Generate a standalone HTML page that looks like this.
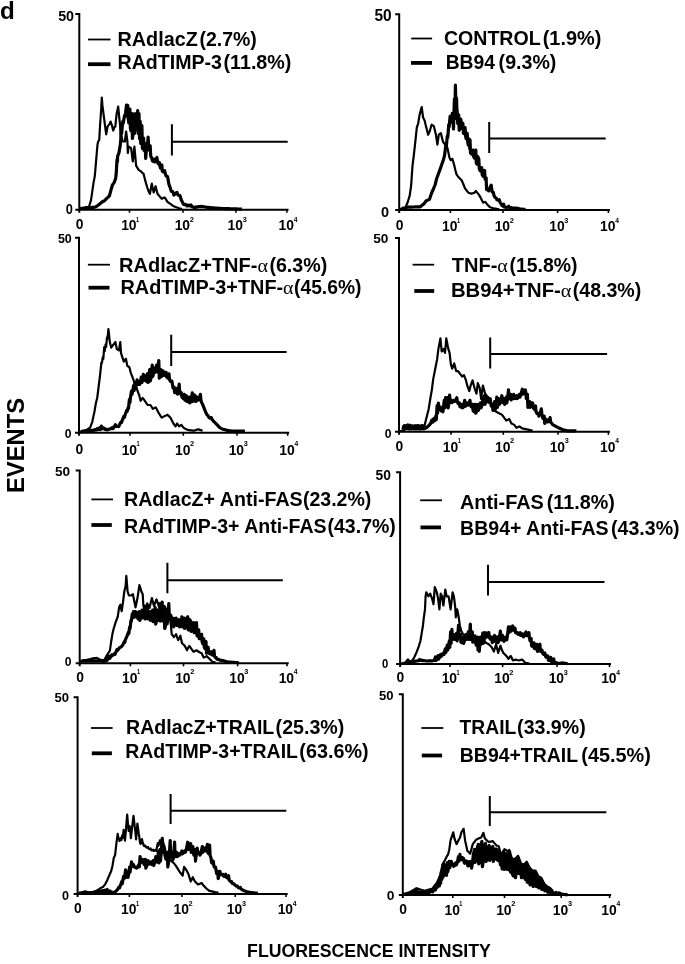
<!DOCTYPE html>
<html><head><meta charset="utf-8"><title>Figure</title><style>
html,body{margin:0;padding:0;background:#fff;}
svg{display:block;filter:grayscale(1) blur(0.35px);}
text{font-family:"Liberation Sans",sans-serif;font-weight:bold;fill:#000;}
.al{font-family:"Liberation Serif",serif;font-weight:normal;}
.ax{fill:none;stroke:#000;stroke-width:2;}
.tk{fill:none;stroke:#000;stroke-width:1.6;}
.gt{fill:none;stroke:#000;stroke-width:2;}
.thin{fill:none;stroke:#000;stroke-width:1.8;}
.thick{fill:none;stroke:#000;stroke-width:3.8;}
.cthin{fill:none;stroke:#000;stroke-width:2.2;stroke-linejoin:round;}
.cthick{fill:none;stroke:#000;stroke-width:3.2;stroke-linejoin:round;}
.f{fill:#000;}
</style></head><body>
<svg width="685" height="964" viewBox="0 0 685 964">
<text x="-0.09" y="18.6" font-size="23" textLength="14.79" lengthAdjust="spacingAndGlyphs">d</text>
<g transform="translate(24.0,491.5) rotate(-90)"><text x="-1.59" y="0.0" font-size="23.2" textLength="95.32" lengthAdjust="spacingAndGlyphs">EVENTS</text></g>
<text x="247.12" y="956.7" font-size="18" textLength="243.67" lengthAdjust="spacingAndGlyphs">FLUORESCENCE INTENSITY</text>
<path d="M75.3 13.9H79.3V212.7M75.3 209.7H288.5" class="ax"/>
<path d="M129.5 209.7V212.7" class="tk"/>
<path d="M183.0 209.7V212.7" class="tk"/>
<path d="M235.9 209.7V212.7" class="tk"/>
<path d="M286.9 209.7V212.7" class="tk"/>
<text x="58.16" y="20.7" font-size="14.1" textLength="15.93" lengthAdjust="spacingAndGlyphs">50</text>
<text x="65.79" y="214.1" font-size="14.4" textLength="7.13" lengthAdjust="spacingAndGlyphs">0</text>
<text x="75.75" y="229.1" font-size="14.5" textLength="7.72" lengthAdjust="spacingAndGlyphs">0</text>
<text x="121.13" y="230.1" font-size="14.5" textLength="15.44" lengthAdjust="spacingAndGlyphs">10</text>
<text x="136.05" y="221.5" font-size="7.5" textLength="3.11" lengthAdjust="spacingAndGlyphs">1</text>
<text x="174.63" y="230.1" font-size="14.5" textLength="15.44" lengthAdjust="spacingAndGlyphs">10</text>
<text x="189.64" y="221.5" font-size="7.5" textLength="4.16" lengthAdjust="spacingAndGlyphs">2</text>
<text x="227.53" y="230.1" font-size="14.5" textLength="15.44" lengthAdjust="spacingAndGlyphs">10</text>
<text x="242.63" y="221.5" font-size="7.5" textLength="4.03" lengthAdjust="spacingAndGlyphs">3</text>
<text x="278.53" y="230.1" font-size="14.5" textLength="15.44" lengthAdjust="spacingAndGlyphs">10</text>
<text x="293.70" y="221.5" font-size="7.5" textLength="3.74" lengthAdjust="spacingAndGlyphs">4</text>
<path d="M171.9 124.3V155.4M171.9 141.7H287.7" class="gt"/>
<path d="M88.0 39.5H110.5" class="thin"/>
<path d="M88.0 64.2H110.5" class="thick"/>
<text x="117.48" y="45.5" font-size="19.5" textLength="80.29" lengthAdjust="spacingAndGlyphs">RAdlacZ</text>
<text x="199.43" y="45.5" font-size="19.5" textLength="57.34" lengthAdjust="spacingAndGlyphs">(2.7%)</text>
<text x="117.49" y="69.2" font-size="19.5" textLength="104.52" lengthAdjust="spacingAndGlyphs">RAdTIMP-3</text>
<text x="223.54" y="69.2" font-size="19.5" textLength="67.83" lengthAdjust="spacingAndGlyphs">(11.8%)</text>
<path d="M79.5 208.8 L80.6 208.5 L81.7 208.3 L82.8 208.0 L83.9 207.8 L85.0 207.5 L86.0 207.2 L87.0 207.0 L88.1 206.8 L89.1 206.5 L91.0 200.1 L92.3 191.3 L93.6 182.4 L94.8 176.1 L96.1 160.9 L97.4 145.7 L98.0 141.9 L99.3 139.4 L99.9 128.0 L101.2 109.0 L101.8 97.6 L102.4 105.2 L103.7 115.3 L105.0 125.4 L106.2 134.3 L107.5 126.7 L109.4 124.2 L110.6 121.6 L111.9 125.4 L113.2 130.5 L114.5 127.0 L115.3 126.6 L116.6 114.1 L118.2 106.6 L119.5 119.9 L121.1 134.9 L122.8 141.5 L123.8 141.5 L124.9 141.5 L126.1 131.5 L127.4 141.5 L127.8 153.0 L128.6 146.5 L129.8 147.3 L131.1 148.2 L132.8 161.4 L134.4 146.5 L136.1 165.6 L137.3 167.7 L138.6 169.8 L139.8 170.6 L141.1 171.4 L142.3 172.7 L143.6 173.9 L144.8 178.8 L146.1 183.7 L147.3 187.5 L148.6 191.3 L149.9 193.8 L151.8 183.7 L153.7 192.5 L155.6 186.2 L157.5 193.8 L158.6 195.1 L159.6 196.3 L160.6 197.6 L161.7 198.8 L163.1 198.1 L164.6 197.4 L166.1 199.6 L167.5 201.8 L168.9 202.9 L170.4 203.9 L171.4 204.6 L172.4 205.4 L173.4 206.1 L174.9 206.7 L176.3 207.3 L177.8 207.8 L179.2 208.3 L180.6 208.6 L182.1 208.8" class="cthin"/>
<path d="M80.0 208.5 L81.0 208.4 L82.0 208.3 L83.0 208.3 L84.0 208.2 L85.0 208.1 L86.0 208.1 L87.0 208.0 L88.0 207.9 L89.0 207.8 L90.0 207.8 L91.1 207.6 L92.2 207.4 L93.3 207.3 L94.4 207.2 L95.5 207.0 L96.8 206.2 L98.0 205.3 L99.3 204.4 L100.5 203.3 L101.8 202.2 L103.0 201.5 L104.3 200.8 L105.5 199.6 L106.8 198.3 L108.1 197.1 L109.4 195.8 L111.3 188.8 L112.5 184.8 L114.4 182.1 L115.7 178.2 L116.3 172.5 L117.0 159.5 L117.5 161.5 L117.6 156.4 L118.9 153.0 L120.1 146.3 L120.8 139.6 L121.1 123.9 L121.6 133.5 L122.7 121.5 L123.2 123.5 L124.5 115.6 L125.0 116.5 L125.5 113.3 L126.5 105.2 L127.0 110.5 L127.7 105.4 L128.2 118.5 L128.8 123.0 L129.9 109.0 L130.4 128.5 L130.9 130.6 L131.9 113.5 L132.4 138.5 L132.9 135.7 L134.0 113.9 L134.5 133.5 L135.0 129.1 L136.0 113.5 L136.5 128.5 L137.7 110.6 L138.2 133.5 L139.0 113.5 L139.5 138.5 L140.2 121.4 L140.7 143.5 L141.9 125.6 L142.4 148.5 L143.6 138.0 L144.1 150.5 L145.2 146.3 L145.7 158.5 L146.9 143.0 L147.4 148.5 L148.1 137.2 L148.6 145.5 L149.1 150.1 L150.2 145.8 L150.7 156.0 L151.9 158.3 L152.4 161.0 L153.2 161.5 L154.4 159.1 L154.9 162.0 L155.7 161.2 L156.9 157.5 L157.4 161.0 L158.1 163.5 L159.3 162.4 L159.8 166.0 L160.6 168.1 L161.8 164.9 L162.3 171.0 L163.2 171.9 L164.6 170.6 L165.1 173.0 L166.1 176.0 L167.5 176.5 L168.0 179.0 L168.9 184.3 L170.4 188.2 L170.9 190.0 L171.4 191.4 L172.4 191.4 L173.4 193.0 L173.9 195.0 L174.6 194.6 L175.8 192.9 L177.0 192.5 L177.5 194.0 L178.4 195.2 L179.9 195.5 L180.4 197.0 L181.4 200.3 L182.8 202.8 L183.3 204.0 L184.0 204.6 L185.3 204.4 L186.5 204.9 L187.0 206.0 L187.6 206.0 L188.7 205.1 L189.8 205.9 L190.9 204.9 L191.4 206.0 L192.4 207.0 L193.8 207.1 L194.3 208.0 L194.8 207.8 L195.9 206.9 L196.9 207.2 L198.0 206.7 L199.0 206.7 L200.1 206.6 L201.1 206.4 L202.1 206.6 L203.2 206.7 L204.2 206.8 L205.3 207.0 L206.3 207.2 L207.4 207.3 L208.4 207.4 L209.5 207.5 L210.6 207.6 L211.7 207.8 L212.8 207.8 L213.9 207.9 L215.0 208.1 L216.1 208.2 L217.2 208.2 L218.3 208.3 L219.5 208.4 L220.6 208.4 L221.7 208.5 L222.9 208.6 L224.0 208.7 L225.0 208.7 L226.0 208.7 L227.0 208.7 L228.0 208.7 L229.0 208.7 L230.0 208.8 L231.0 208.8 L232.0 208.8 L233.0 208.8 L234.0 208.8 L235.0 208.9 L236.0 208.9 L237.0 208.9 L238.0 209.0 L239.0 209.0 L240.0 209.1 L241.0 209.1 L242.0 209.2" class="cthick"/>
<path d="M395.2 14.2H399.2V213.0M395.2 210.0H609.9" class="ax"/>
<path d="M450.4 210.0V213.0" class="tk"/>
<path d="M503.0 210.0V213.0" class="tk"/>
<path d="M557.6 210.0V213.0" class="tk"/>
<path d="M608.4 210.0V213.0" class="tk"/>
<text x="374.42" y="20.7" font-size="16.2" textLength="17.21" lengthAdjust="spacingAndGlyphs">50</text>
<text x="381.03" y="216.7" font-size="15.3" textLength="8.07" lengthAdjust="spacingAndGlyphs">0</text>
<text x="395.65" y="230.2" font-size="14.5" textLength="7.72" lengthAdjust="spacingAndGlyphs">0</text>
<text x="442.03" y="231.2" font-size="14.5" textLength="15.44" lengthAdjust="spacingAndGlyphs">10</text>
<text x="456.95" y="222.6" font-size="7.5" textLength="3.11" lengthAdjust="spacingAndGlyphs">1</text>
<text x="494.63" y="231.2" font-size="14.5" textLength="15.44" lengthAdjust="spacingAndGlyphs">10</text>
<text x="509.64" y="222.6" font-size="7.5" textLength="4.16" lengthAdjust="spacingAndGlyphs">2</text>
<text x="549.23" y="231.2" font-size="14.5" textLength="15.44" lengthAdjust="spacingAndGlyphs">10</text>
<text x="564.33" y="222.6" font-size="7.5" textLength="4.03" lengthAdjust="spacingAndGlyphs">3</text>
<text x="600.03" y="231.2" font-size="14.5" textLength="15.44" lengthAdjust="spacingAndGlyphs">10</text>
<text x="615.20" y="222.6" font-size="7.5" textLength="3.74" lengthAdjust="spacingAndGlyphs">4</text>
<path d="M489.2 121.9V152.9M489.2 138.6H605.7" class="gt"/>
<path d="M411.2 38.5H432.1" class="thin"/>
<path d="M411.0 62.9H432.0" class="thick"/>
<text x="443.90" y="45.3" font-size="19.5" textLength="96.81" lengthAdjust="spacingAndGlyphs">CONTROL</text>
<text x="542.71" y="45.3" font-size="19.5" textLength="58.68" lengthAdjust="spacingAndGlyphs">(1.9%)</text>
<text x="445.71" y="68.9" font-size="19.5" textLength="49.29" lengthAdjust="spacingAndGlyphs">BB94</text>
<text x="498.62" y="68.9" font-size="19.5" textLength="57.75" lengthAdjust="spacingAndGlyphs">(9.3%)</text>
<path d="M399.5 209.0 L400.6 208.8 L401.8 208.5 L403.0 208.3 L404.2 208.0 L405.4 207.8 L406.4 205.3 L407.5 202.8 L408.6 199.2 L409.7 195.7 L411.1 185.8 L412.5 165.9 L413.9 154.5 L415.3 141.8 L416.8 127.6 L418.2 123.3 L419.6 114.8 L420.6 110.9 L421.7 107.0 L423.1 117.6 L424.6 120.5 L425.6 124.8 L426.7 129.0 L428.1 134.7 L429.5 131.8 L430.6 128.2 L431.7 124.7 L432.8 125.4 L433.8 126.1 L434.9 130.4 L435.9 134.7 L437.4 144.6 L438.8 134.7 L439.9 133.9 L440.9 133.2 L441.9 137.5 L443.0 141.8 L444.1 143.2 L445.2 144.6 L446.2 146.0 L447.3 147.4 L448.4 152.4 L449.4 157.4 L450.8 160.2 L452.3 158.8 L453.4 162.4 L454.4 165.9 L455.4 170.2 L456.5 174.4 L457.6 175.9 L458.7 177.3 L460.1 178.7 L461.5 180.1 L462.9 183.0 L464.0 185.8 L465.1 188.6 L466.3 190.0 L467.4 191.5 L468.6 192.9 L470.0 193.2 L471.4 193.6 L472.9 193.2 L474.3 192.9 L475.8 190.9 L476.8 192.1 L477.8 193.4 L478.8 194.6 L479.9 196.4 L480.9 198.2 L482.0 200.4 L483.1 202.6 L484.2 202.2 L485.3 201.9 L486.4 203.4 L487.5 204.8 L488.6 205.9 L489.7 207.0 L490.9 207.5 L492.2 207.9 L493.4 208.4 L494.6 208.6 L495.7 208.7 L496.9 208.9 L498.0 209.0 L499.2 209.2" class="cthin"/>
<path d="M401.8 208.5 L402.9 208.2 L404.1 208.0 L405.2 207.8 L406.4 207.5 L407.5 207.2 L408.6 207.2 L409.8 207.2 L410.9 207.1 L412.1 207.1 L413.2 207.0 L414.2 207.0 L415.2 206.9 L416.2 206.9 L417.3 206.9 L418.3 206.8 L419.3 206.8 L420.3 206.8 L421.5 205.8 L422.7 204.8 L423.9 203.9 L424.9 202.4 L426.0 201.0 L427.2 200.4 L428.3 199.9 L429.5 199.3 L430.6 196.0 L431.7 192.8 L433.1 189.8 L434.1 187.2 L435.2 184.5 L436.6 178.7 L437.7 175.7 L438.8 172.8 L439.9 169.9 L440.9 166.9 L441.9 164.0 L443.0 161.1 L444.5 155.8 L445.9 144.7 L446.4 145.5 L447.3 136.2 L447.8 137.5 L448.7 124.8 L449.2 126.5 L450.1 116.3 L450.6 120.5 L451.2 121.2 L452.3 113.4 L452.8 123.5 L453.0 119.1 L453.5 128.9 L454.4 98.9 L454.9 118.5 L455.4 85.0 L455.9 108.5 L456.5 97.8 L457.0 113.5 L457.2 110.6 L457.7 123.5 L458.7 114.9 L459.2 130.3 L459.8 126.1 L460.8 119.1 L461.3 124.5 L461.9 128.3 L462.9 123.4 L463.4 133.2 L464.0 133.6 L465.1 127.6 L465.6 136.0 L466.1 138.7 L467.2 133.3 L467.7 141.7 L468.2 145.1 L469.3 139.0 L469.8 148.8 L470.0 139.9 L470.5 152.9 L471.4 154.0 L472.9 150.1 L473.4 155.8 L474.4 158.2 L475.8 150.1 L476.3 163.1 L476.8 164.0 L477.8 156.6 L478.8 158.8 L479.3 169.0 L480.2 170.9 L481.7 167.6 L482.2 174.8 L483.1 176.3 L484.6 170.5 L485.1 179.2 L486.1 177.8 L486.6 189.4 L487.1 189.8 L488.2 189.5 L488.7 190.9 L489.2 190.0 L490.2 187.0 L491.2 185.1 L491.7 189.4 L492.3 192.2 L493.4 192.4 L493.9 195.3 L494.9 197.2 L496.3 198.3 L496.8 199.6 L497.8 200.2 L499.2 199.7 L499.7 201.1 L500.3 203.1 L501.4 204.1 L501.9 205.5 L502.5 205.9 L503.6 204.1 L504.1 206.9 L504.7 207.1 L505.8 207.0 L506.3 207.5 L507.2 207.3 L508.7 206.3 L509.2 207.5 L509.9 207.7 L511.1 207.5 L512.3 208.1 L513.4 208.1 L514.5 208.1 L515.6 208.1 L516.7 208.1 L518.2 208.5 L519.6 208.9 L520.8 209.0 L522.0 209.1 L523.1 209.3 L524.3 209.4 L525.5 209.5" class="cthick"/>
<path d="M75.0 237.8H79.0V435.8M75.0 432.8H289.2" class="ax"/>
<path d="M130.0 432.8V435.8" class="tk"/>
<path d="M183.3 432.8V435.8" class="tk"/>
<path d="M237.0 432.8V435.8" class="tk"/>
<path d="M287.7 432.8V435.8" class="tk"/>
<text x="57.92" y="242.6" font-size="12.3" textLength="13.90" lengthAdjust="spacingAndGlyphs">50</text>
<text x="64.82" y="438.0" font-size="13.1" textLength="6.78" lengthAdjust="spacingAndGlyphs">0</text>
<text x="75.45" y="453.9" font-size="14.5" textLength="7.72" lengthAdjust="spacingAndGlyphs">0</text>
<text x="121.63" y="454.9" font-size="14.5" textLength="15.44" lengthAdjust="spacingAndGlyphs">10</text>
<text x="136.55" y="446.3" font-size="7.5" textLength="3.11" lengthAdjust="spacingAndGlyphs">1</text>
<text x="174.93" y="454.9" font-size="14.5" textLength="15.44" lengthAdjust="spacingAndGlyphs">10</text>
<text x="189.94" y="446.3" font-size="7.5" textLength="4.16" lengthAdjust="spacingAndGlyphs">2</text>
<text x="228.63" y="454.9" font-size="14.5" textLength="15.44" lengthAdjust="spacingAndGlyphs">10</text>
<text x="243.73" y="446.3" font-size="7.5" textLength="4.03" lengthAdjust="spacingAndGlyphs">3</text>
<text x="279.33" y="454.9" font-size="14.5" textLength="15.44" lengthAdjust="spacingAndGlyphs">10</text>
<text x="294.50" y="446.3" font-size="7.5" textLength="3.74" lengthAdjust="spacingAndGlyphs">4</text>
<path d="M171.2 334.7V366.0M171.2 352.1H286.7" class="gt"/>
<path d="M87.9 264.7H110.0" class="thin"/>
<path d="M88.5 287.7H109.5" class="thick"/>
<text x="119.06" y="271.8" font-size="19.5" textLength="148.89" lengthAdjust="spacingAndGlyphs">RAdlacZ+TNF-<tspan class="al">α</tspan></text>
<text x="269.42" y="271.8" font-size="19.5" textLength="57.86" lengthAdjust="spacingAndGlyphs">(6.3%)</text>
<text x="120.47" y="293.6" font-size="19.5" textLength="173.07" lengthAdjust="spacingAndGlyphs">RAdTIMP-3+TNF-<tspan class="al">α</tspan></text>
<text x="294.04" y="293.6" font-size="19.5" textLength="67.42" lengthAdjust="spacingAndGlyphs">(45.6%)</text>
<path d="M79.5 432.6 L80.4 432.4 L81.5 432.0 L82.6 431.6 L83.8 431.1 L84.9 430.7 L86.0 430.3 L87.0 429.6 L88.1 428.9 L89.2 428.2 L90.2 427.5 L91.2 424.6 L92.3 421.8 L93.3 416.9 L94.4 412.0 L95.8 403.6 L97.2 398.0 L98.6 386.8 L100.0 375.6 L101.4 362.6 L101.9 363.0 L102.8 357.0 L103.3 359.0 L104.2 347.2 L104.7 351.0 L105.6 344.4 L106.1 347.0 L107.0 337.4 L107.5 339.0 L108.4 329.0 L108.9 333.0 L109.8 342.0 L111.2 347.6 L112.2 346.2 L113.3 344.8 L114.3 343.4 L115.4 342.0 L116.8 349.0 L117.8 349.7 L118.9 350.4 L120.3 342.0 L121.0 353.2 L122.4 357.4 L123.8 361.6 L124.8 360.2 L125.9 358.8 L127.3 365.8 L128.3 366.5 L129.4 367.2 L130.8 372.8 L131.9 375.6 L132.9 378.4 L133.9 381.2 L135.0 384.0 L136.1 386.8 L137.1 389.6 L138.1 392.4 L139.2 395.2 L140.6 400.8 L141.6 399.4 L142.7 398.0 L143.8 399.4 L144.8 400.8 L146.2 402.9 L147.6 405.0 L149.0 405.0 L150.4 405.0 L151.7 406.9 L152.9 408.8 L154.4 408.1 L155.8 407.4 L156.8 409.3 L157.8 411.3 L158.8 413.2 L160.2 415.4 L161.7 417.6 L163.1 416.9 L164.6 416.1 L166.1 415.4 L167.5 414.7 L168.9 416.1 L170.4 417.6 L171.4 419.5 L172.4 421.5 L173.4 423.4 L174.4 424.9 L175.5 426.4 L177.0 423.4 L178.1 424.9 L179.2 426.4 L180.3 425.6 L181.4 424.9 L182.5 426.4 L183.6 427.8 L184.7 428.4 L185.8 428.9 L186.9 429.4 L188.0 430.0 L189.2 430.1 L190.3 430.3 L191.5 430.4 L192.6 430.6 L193.8 430.7 L194.9 430.4 L196.0 430.0 L197.1 429.6 L198.2 429.3 L199.3 429.6 L200.4 430.0 L201.5 430.4 L202.6 430.7" class="cthin"/>
<path d="M80.4 431.7 L81.5 431.5 L82.6 431.2 L83.8 431.0 L84.9 430.7 L86.0 430.5 L87.0 430.5 L88.0 430.5 L89.0 430.5 L90.0 430.4 L91.0 430.4 L92.0 430.4 L93.0 430.3 L94.0 430.3 L95.0 429.5 L96.0 430.0 L97.0 428.7 L98.0 429.6 L99.0 428.2 L100.0 427.5 L100.5 429.5 L101.4 426.1 L101.9 428.5 L102.5 428.6 L103.6 427.9 L104.8 429.3 L105.9 429.2 L107.0 429.9 L108.1 429.5 L109.2 429.0 L110.4 429.0 L111.5 428.1 L112.6 427.5 L113.1 428.5 L114.0 427.3 L115.4 424.7 L115.9 426.5 L116.8 426.3 L118.2 426.1 L118.7 426.5 L119.6 424.5 L121.0 421.9 L121.5 422.5 L122.4 419.9 L123.8 416.3 L124.3 417.5 L125.2 414.5 L126.6 410.7 L127.1 411.5 L128.0 407.9 L128.5 408.5 L129.4 399.5 L129.9 402.5 L130.4 398.1 L131.5 391.1 L132.0 394.5 L132.6 392.0 L133.6 385.5 L134.1 390.5 L135.0 382.7 L135.5 388.5 L136.1 385.5 L137.1 379.9 L137.6 384.5 L138.1 383.9 L139.2 381.3 L139.7 384.5 L140.2 383.3 L141.3 377.1 L141.8 382.5 L142.4 381.1 L143.4 374.3 L143.9 380.5 L144.4 379.8 L145.5 375.7 L146.0 380.5 L146.6 381.5 L147.6 373.5 L148.1 382.5 L148.6 380.8 L149.7 369.5 L150.2 381.1 L150.9 378.5 L152.2 365.1 L152.7 376.7 L153.3 374.4 L154.4 368.0 L154.9 372.5 L155.5 370.9 L156.6 365.1 L157.1 369.5 L157.7 372.1 L158.8 360.7 L159.3 378.1 L159.9 377.1 L160.9 369.5 L161.4 376.7 L162.0 375.7 L163.1 370.9 L163.6 375.2 L164.1 375.4 L165.1 372.6 L166.1 372.4 L166.6 376.7 L167.6 378.0 L169.0 373.8 L169.5 379.5 L170.4 381.4 L171.9 381.1 L172.4 384.0 L173.0 387.9 L174.1 387.0 L174.6 392.7 L175.6 392.4 L177.0 388.4 L177.5 394.2 L178.1 392.3 L179.2 384.1 L179.7 392.7 L180.3 393.8 L181.4 392.8 L181.9 397.1 L182.9 398.3 L184.3 394.3 L184.8 400.0 L185.4 400.3 L186.5 395.7 L187.0 401.5 L187.9 401.8 L189.4 397.2 L189.9 403.0 L190.9 401.0 L192.3 392.8 L192.8 401.5 L193.3 400.0 L194.3 394.9 L195.3 395.7 L195.8 401.5 L196.8 400.6 L198.2 397.2 L198.7 400.0 L199.3 399.8 L200.4 394.3 L200.9 400.0 L201.5 402.1 L202.6 404.4 L204.1 408.1 L205.5 411.8 L206.9 414.6 L208.4 416.2 L208.9 417.5 L209.9 418.1 L211.3 417.6 L211.8 419.0 L212.8 420.4 L214.2 421.9 L215.2 422.9 L216.2 423.9 L217.2 424.9 L218.6 426.4 L220.1 427.9 L221.6 428.6 L223.0 429.2 L224.1 429.5 L225.2 429.8 L226.3 430.1 L227.4 430.4 L228.5 430.6 L229.6 430.8 L230.7 430.9 L231.8 431.1 L233.0 431.1 L234.1 431.1 L235.3 431.1 L236.4 431.1 L237.6 431.1 L238.6 431.1 L239.7 431.1 L240.7 431.1 L241.8 431.1 L242.8 431.1 L243.9 431.1 L244.9 431.1" class="cthick"/>
<path d="M395.0 238.1H399.0V434.8M395.0 431.8H609.9" class="ax"/>
<path d="M451.1 431.8V434.8" class="tk"/>
<path d="M503.3 431.8V434.8" class="tk"/>
<path d="M558.0 431.8V434.8" class="tk"/>
<path d="M608.4 431.8V434.8" class="tk"/>
<text x="373.18" y="243.2" font-size="13.1" textLength="15.18" lengthAdjust="spacingAndGlyphs">50</text>
<text x="384.82" y="438.0" font-size="13.1" textLength="6.78" lengthAdjust="spacingAndGlyphs">0</text>
<text x="395.45" y="451.0" font-size="14.5" textLength="7.72" lengthAdjust="spacingAndGlyphs">0</text>
<text x="442.73" y="452.0" font-size="14.5" textLength="15.44" lengthAdjust="spacingAndGlyphs">10</text>
<text x="457.65" y="443.4" font-size="7.5" textLength="3.11" lengthAdjust="spacingAndGlyphs">1</text>
<text x="494.93" y="452.0" font-size="14.5" textLength="15.44" lengthAdjust="spacingAndGlyphs">10</text>
<text x="509.94" y="443.4" font-size="7.5" textLength="4.16" lengthAdjust="spacingAndGlyphs">2</text>
<text x="549.63" y="452.0" font-size="14.5" textLength="15.44" lengthAdjust="spacingAndGlyphs">10</text>
<text x="564.73" y="443.4" font-size="7.5" textLength="4.03" lengthAdjust="spacingAndGlyphs">3</text>
<text x="600.03" y="452.0" font-size="14.5" textLength="15.44" lengthAdjust="spacingAndGlyphs">10</text>
<text x="615.20" y="443.4" font-size="7.5" textLength="3.74" lengthAdjust="spacingAndGlyphs">4</text>
<path d="M490.2 337.4V368.4M490.2 354.1H607.1" class="gt"/>
<path d="M412.6 264.7H434.2" class="thin"/>
<path d="M414.3 291.0H434.2" class="thick"/>
<text x="451.67" y="272.1" font-size="19.5" textLength="56.18" lengthAdjust="spacingAndGlyphs">TNF-<tspan class="al">α</tspan></text>
<text x="509.53" y="272.1" font-size="19.5" textLength="67.93" lengthAdjust="spacingAndGlyphs">(15.8%)</text>
<text x="450.94" y="297.4" font-size="19.5" textLength="120.51" lengthAdjust="spacingAndGlyphs">BB94+TNF-<tspan class="al">α</tspan></text>
<text x="572.72" y="297.4" font-size="19.5" textLength="68.55" lengthAdjust="spacingAndGlyphs">(48.3%)</text>
<path d="M399.5 431.5 L400.6 431.1 L401.8 430.8 L402.9 430.4 L404.3 425.0 L404.8 429.0 L405.4 429.0 L406.6 425.3 L407.7 428.7 L408.9 425.5 L410.0 425.0 L410.5 429.0 L411.0 428.3 L412.0 425.7 L413.0 428.6 L414.0 425.8 L415.0 428.5 L416.0 425.5 L416.5 429.0 L417.0 429.0 L418.0 426.0 L419.0 428.4 L420.0 425.8 L421.0 428.4 L422.0 425.0 L422.5 429.0 L423.0 428.8 L424.0 428.8 L425.3 422.5 L426.6 417.2 L427.6 413.3 L428.6 409.4 L430.5 397.5 L431.9 389.6 L433.2 379.1 L434.5 372.6 L435.8 366.0 L437.1 359.4 L438.4 348.9 L439.4 343.6 L440.4 338.4 L441.7 351.5 L442.7 350.2 L443.7 348.9 L445.0 352.9 L446.3 338.4 L447.3 343.6 L448.3 348.9 L449.6 352.9 L450.9 364.7 L452.2 368.6 L453.2 366.0 L454.2 363.4 L455.2 367.3 L456.2 371.2 L458.1 371.2 L459.1 372.5 L460.1 373.9 L461.1 375.2 L462.1 376.5 L464.0 375.2 L465.0 377.8 L466.0 380.4 L467.3 385.7 L468.3 388.4 L469.3 391.0 L470.6 385.7 L471.6 383.0 L472.6 380.4 L473.6 384.4 L474.6 388.3 L476.5 393.6 L477.8 383.1 L478.8 385.7 L479.8 388.3 L481.1 398.8 L482.9 385.5 L484.0 389.6 L485.1 393.6 L487.0 396.2 L488.0 397.1 L489.0 398.0 L490.0 400.0 L491.0 402.0 L492.1 405.4 L493.1 408.8 L494.1 409.8 L495.1 410.8 L496.1 411.8 L497.6 412.5 L499.0 413.2 L500.4 413.9 L501.9 414.7 L503.0 416.1 L504.1 417.6 L505.2 419.1 L506.3 420.5 L507.8 419.8 L509.2 419.1 L510.3 421.2 L511.4 423.4 L512.8 424.1 L514.3 424.9 L515.4 426.4 L516.5 427.8 L518.0 427.1 L519.4 426.4 L520.8 427.4 L522.3 428.5 L523.4 428.7 L524.5 428.9 L525.6 429.1 L526.7 429.3 L527.9 429.6 L529.1 429.9 L530.2 430.1 L531.4 430.4 L532.6 430.7" class="cthin"/>
<path d="M402.9 429.5 L403.6 426.5 L404.1 429.5 L404.7 429.1 L405.8 425.8 L406.9 428.6 L408.0 425.0 L408.5 429.0 L409.0 429.0 L410.0 425.4 L411.0 428.9 L412.0 425.9 L413.0 426.0 L413.5 429.0 L414.0 428.8 L415.0 425.8 L416.0 429.0 L417.0 425.7 L418.0 425.5 L418.5 429.0 L419.0 428.9 L420.0 425.9 L421.0 429.0 L422.0 426.4 L423.0 426.0 L423.5 429.0 L424.0 428.5 L425.3 428.1 L426.6 427.7 L427.9 426.4 L429.2 425.1 L430.5 423.6 L431.9 420.1 L432.4 422.3 L433.8 418.7 L434.3 421.0 L434.8 420.3 L435.8 416.1 L436.3 419.7 L437.1 405.6 L437.6 413.1 L438.4 403.0 L438.9 407.9 L439.4 409.0 L440.4 406.9 L440.9 410.5 L441.4 410.9 L442.4 408.2 L442.9 411.8 L444.3 400.3 L444.8 407.9 L445.6 397.7 L446.1 405.2 L446.6 405.9 L447.6 397.7 L448.1 407.9 L448.6 405.0 L449.6 395.1 L450.1 402.6 L450.6 401.8 L451.6 400.3 L452.1 402.6 L452.9 401.6 L454.2 400.3 L454.7 401.3 L455.5 401.1 L456.8 397.7 L457.3 401.3 L458.1 403.6 L459.4 403.0 L459.9 406.5 L460.8 407.1 L462.1 404.3 L462.6 407.9 L463.4 407.1 L464.7 400.3 L465.2 406.5 L466.0 405.6 L467.3 403.0 L467.8 405.2 L468.6 405.0 L470.0 400.3 L470.5 405.2 L471.3 406.9 L472.6 404.3 L473.1 410.5 L473.9 411.6 L475.2 404.3 L475.7 413.1 L476.5 411.8 L477.8 404.3 L478.3 410.5 L479.1 408.1 L480.5 403.0 L481.0 407.9 L481.8 406.1 L483.1 398.4 L484.4 395.7 L484.9 404.4 L485.9 402.2 L487.3 397.2 L487.8 401.5 L488.8 402.2 L490.2 398.7 L490.7 403.0 L491.3 406.1 L492.4 404.5 L492.9 410.3 L493.5 408.9 L494.6 401.6 L495.1 410.3 L495.7 407.2 L496.8 397.2 L497.3 407.3 L497.9 404.8 L499.0 398.7 L499.5 404.4 L500.4 402.6 L501.9 395.7 L502.4 401.5 L503.0 402.5 L504.1 398.7 L504.6 404.4 L505.2 403.5 L506.3 397.2 L506.8 403.0 L507.4 399.7 L508.5 389.9 L509.0 398.6 L509.6 398.5 L510.7 394.3 L511.2 400.0 L512.1 398.5 L513.6 394.3 L514.1 398.6 L515.0 398.4 L516.5 395.7 L517.0 398.6 L518.0 397.7 L519.4 394.3 L519.9 397.1 L520.8 395.0 L522.3 389.2 L522.8 394.2 L523.3 392.9 L524.3 390.3 L525.3 389.9 L525.8 392.7 L526.3 398.7 L527.4 394.3 L527.9 407.3 L528.5 405.8 L529.6 401.6 L530.1 407.3 L530.6 406.5 L531.6 402.7 L532.6 403.0 L533.1 407.3 L534.0 409.0 L535.5 406.0 L536.0 411.7 L537.0 413.6 L538.4 413.3 L538.9 416.1 L539.8 414.6 L541.3 408.9 L541.8 413.2 L542.8 418.3 L544.2 416.2 L544.7 423.4 L545.2 422.6 L546.2 419.3 L547.2 420.6 L547.7 421.9 L548.7 421.5 L550.1 417.6 L550.6 421.9 L551.5 423.0 L553.0 424.9 L554.5 425.6 L555.9 426.4 L557.3 427.1 L558.8 427.9 L559.8 428.3 L560.8 428.8 L561.8 429.2 L563.2 429.7 L564.7 430.1 L566.2 430.5 L567.6 430.9 L568.7 430.9 L569.8 430.9 L570.9 430.9 L572.0 430.9 L573.1 430.9 L574.2 430.9 L575.3 430.9 L576.4 430.9" class="cthick"/>
<path d="M75.7 470.5H79.7V666.3M75.7 663.3H288.7" class="ax"/>
<path d="M130.4 663.3V666.3" class="tk"/>
<path d="M183.5 663.3V666.3" class="tk"/>
<path d="M237.6 663.3V666.3" class="tk"/>
<path d="M287.0 663.3V666.3" class="tk"/>
<text x="54.98" y="475.5" font-size="13.1" textLength="15.18" lengthAdjust="spacingAndGlyphs">50</text>
<text x="64.82" y="666.3" font-size="13.1" textLength="6.78" lengthAdjust="spacingAndGlyphs">0</text>
<text x="76.15" y="681.5" font-size="14.5" textLength="7.72" lengthAdjust="spacingAndGlyphs">0</text>
<text x="122.03" y="682.5" font-size="14.5" textLength="15.44" lengthAdjust="spacingAndGlyphs">10</text>
<text x="136.95" y="673.9" font-size="7.5" textLength="3.11" lengthAdjust="spacingAndGlyphs">1</text>
<text x="175.13" y="682.5" font-size="14.5" textLength="15.44" lengthAdjust="spacingAndGlyphs">10</text>
<text x="190.14" y="673.9" font-size="7.5" textLength="4.16" lengthAdjust="spacingAndGlyphs">2</text>
<text x="229.23" y="682.5" font-size="14.5" textLength="15.44" lengthAdjust="spacingAndGlyphs">10</text>
<text x="244.33" y="673.9" font-size="7.5" textLength="4.03" lengthAdjust="spacingAndGlyphs">3</text>
<text x="278.63" y="682.5" font-size="14.5" textLength="15.44" lengthAdjust="spacingAndGlyphs">10</text>
<text x="293.80" y="673.9" font-size="7.5" textLength="3.74" lengthAdjust="spacingAndGlyphs">4</text>
<path d="M167.4 562.7V593.3M167.4 580.2H282.8" class="gt"/>
<path d="M91.4 499.4H113.0" class="thin"/>
<path d="M91.4 525.0H111.8" class="thick"/>
<text x="124.00" y="505.5" font-size="19.5" textLength="178.66" lengthAdjust="spacingAndGlyphs">RAdlacZ+ Anti-FAS</text>
<text x="302.93" y="505.5" font-size="19.5" textLength="68.45" lengthAdjust="spacingAndGlyphs">(23.2%)</text>
<text x="124.01" y="532.8" font-size="19.5" textLength="202.55" lengthAdjust="spacingAndGlyphs">RAdTIMP-3+ Anti-FAS</text>
<text x="327.53" y="532.8" font-size="19.5" textLength="68.34" lengthAdjust="spacingAndGlyphs">(43.7%)</text>
<path d="M80.5 662.5 L81.0 661.2 L82.0 661.0 L83.0 660.7 L84.0 660.5 L85.0 660.2 L86.0 660.0 L87.0 659.8 L88.0 659.5 L89.0 659.3 L90.1 659.1 L91.1 658.8 L92.1 658.6 L93.2 658.4 L94.4 658.2 L95.5 658.1 L96.7 657.9 L97.8 658.4 L98.9 659.0 L100.0 659.5 L101.0 659.8 L102.0 660.0 L103.0 660.2 L104.0 660.5 L105.1 658.5 L106.2 656.6 L107.3 654.6 L108.6 652.7 L109.9 650.7 L111.2 641.5 L112.5 633.6 L113.8 628.3 L114.8 625.0 L115.8 621.8 L116.8 619.1 L117.8 616.5 L119.1 607.3 L120.4 604.7 L121.7 611.2 L123.0 602.0 L124.3 591.5 L125.6 586.3 L126.3 575.8 L127.6 591.5 L128.9 595.5 L129.9 595.5 L130.9 595.5 L131.9 594.9 L132.9 594.2 L134.2 600.7 L135.5 607.3 L136.5 602.7 L137.5 598.1 L139.4 585.0 L140.4 588.2 L141.4 591.5 L142.7 594.2 L143.4 606.0 L144.7 609.9 L146.0 606.6 L147.3 603.4 L148.4 605.7 L149.5 608.0 L150.7 603.0 L151.9 598.1 L152.9 602.0 L154.0 606.0 L155.2 602.7 L156.5 599.4 L157.8 603.2 L159.0 607.0 L160.3 607.3 L161.6 607.7 L162.9 608.0 L164.4 628.4 L165.9 618.2 L167.3 608.0 L168.8 613.1 L170.2 618.2 L171.7 634.2 L172.8 635.7 L173.9 637.2 L175.0 635.7 L176.1 634.2 L177.1 637.2 L178.2 640.1 L179.3 637.9 L180.4 635.7 L181.9 643.0 L183.4 644.5 L184.8 645.9 L185.9 648.1 L187.0 650.3 L188.1 648.1 L189.2 645.9 L190.3 647.3 L191.4 648.8 L192.5 650.3 L193.6 651.8 L195.1 651.0 L196.5 650.3 L197.6 651.0 L198.7 651.8 L200.1 652.5 L201.6 653.2 L202.7 655.4 L203.8 657.6 L205.2 656.9 L206.7 656.1 L208.1 657.5 L209.6 659.0 L210.6 660.0 L211.6 661.0 L212.6 662.0 L214.1 662.1 L215.5 662.3" class="cthin"/>
<path d="M81.0 660.7 L82.0 661.0 L83.0 660.7 L84.0 660.9 L85.0 660.7 L86.0 661.0 L87.0 660.6 L88.0 661.0 L89.0 660.5 L90.0 660.5 L90.5 661.0 L91.0 661.0 L92.0 660.6 L93.0 660.9 L94.0 660.9 L95.0 660.9 L96.0 660.9 L97.0 660.9 L98.0 661.0 L99.0 661.0 L100.0 661.0 L101.1 661.0 L102.1 661.1 L103.2 661.1 L104.2 661.2 L105.3 661.2 L106.6 658.7 L107.1 660.3 L107.9 659.0 L109.2 656.1 L109.7 658.4 L110.6 656.9 L111.9 654.8 L112.4 655.7 L113.2 654.9 L114.5 653.5 L115.0 654.4 L115.8 652.3 L117.1 649.5 L117.6 650.5 L118.4 649.2 L119.7 647.6 L121.1 646.8 L122.4 645.6 L124.3 641.7 L124.8 642.5 L125.3 640.0 L126.3 637.6 L127.3 635.5 L128.3 632.5 L128.8 633.5 L129.6 627.2 L130.1 628.5 L130.9 620.6 L131.4 621.1 L132.2 614.1 L132.7 616.3 L133.5 611.5 L134.0 617.5 L134.5 616.1 L135.5 611.5 L136.0 616.3 L136.5 616.8 L137.5 612.7 L138.0 618.9 L139.4 611.5 L139.9 620.3 L140.8 618.2 L142.1 610.1 L142.6 617.6 L143.4 617.9 L144.7 606.2 L145.2 618.9 L146.0 617.0 L147.3 607.5 L147.8 618.9 L148.7 618.9 L150.0 611.5 L150.5 620.3 L151.3 619.3 L152.6 610.1 L153.1 621.6 L153.9 620.2 L155.2 607.5 L155.7 624.2 L156.5 621.2 L157.8 610.1 L158.3 620.3 L158.9 619.6 L160.0 603.6 L160.5 621.1 L161.1 617.0 L162.2 602.2 L162.7 619.5 L163.3 621.1 L164.4 606.5 L164.9 628.4 L165.5 625.7 L166.6 615.3 L167.1 624.0 L167.7 620.1 L168.8 603.6 L169.3 616.7 L169.9 619.3 L170.9 615.3 L171.4 622.5 L172.0 623.3 L173.1 618.2 L173.6 626.9 L174.1 625.1 L175.1 618.4 L176.1 618.2 L176.6 625.5 L177.6 625.0 L179.0 619.7 L179.5 626.9 L180.4 625.2 L181.9 616.8 L182.4 626.9 L183.0 626.3 L184.1 618.2 L184.6 628.4 L185.3 628.1 L186.5 618.6 L187.7 616.8 L188.2 629.8 L188.7 630.0 L189.7 619.7 L190.7 621.1 L191.2 631.3 L192.1 630.0 L193.6 622.6 L194.1 632.7 L195.1 632.7 L196.5 622.6 L197.0 635.7 L197.6 636.0 L198.7 629.9 L199.2 638.6 L200.1 638.6 L201.6 634.3 L202.1 641.5 L202.7 643.7 L203.8 638.7 L204.3 647.3 L204.9 648.5 L206.0 641.6 L206.5 653.2 L207.1 651.8 L208.2 647.4 L208.7 653.2 L209.6 653.7 L211.1 651.8 L211.6 654.6 L212.6 655.1 L214.0 650.3 L214.5 656.1 L215.1 657.3 L216.2 657.6 L216.7 659.0 L217.4 659.3 L218.7 659.3 L219.9 660.1 L221.4 660.3 L222.8 660.5 L223.9 660.8 L225.0 661.2 L226.1 661.5 L227.2 661.9 L228.4 662.0 L229.5 662.1 L230.7 662.2 L231.8 662.3 L233.0 662.4 L234.2 662.4 L235.3 662.5 L236.5 662.5 L237.6 662.5 L238.8 662.5" class="cthick"/>
<path d="M396.1 472.3H400.1V667.1M396.1 664.1H611.0" class="ax"/>
<path d="M450.0 664.1V667.1" class="tk"/>
<path d="M502.6 664.1V667.1" class="tk"/>
<path d="M557.0 664.1V667.1" class="tk"/>
<path d="M609.5 664.1V667.1" class="tk"/>
<text x="375.57" y="480.2" font-size="14.0" textLength="15.39" lengthAdjust="spacingAndGlyphs">50</text>
<text x="381.95" y="667.5" font-size="13.3" textLength="6.31" lengthAdjust="spacingAndGlyphs">0</text>
<text x="396.55" y="682.2" font-size="14.5" textLength="7.72" lengthAdjust="spacingAndGlyphs">0</text>
<text x="441.63" y="683.2" font-size="14.5" textLength="15.44" lengthAdjust="spacingAndGlyphs">10</text>
<text x="456.55" y="674.6" font-size="7.5" textLength="3.11" lengthAdjust="spacingAndGlyphs">1</text>
<text x="494.23" y="683.2" font-size="14.5" textLength="15.44" lengthAdjust="spacingAndGlyphs">10</text>
<text x="509.24" y="674.6" font-size="7.5" textLength="4.16" lengthAdjust="spacingAndGlyphs">2</text>
<text x="548.63" y="683.2" font-size="14.5" textLength="15.44" lengthAdjust="spacingAndGlyphs">10</text>
<text x="563.73" y="674.6" font-size="7.5" textLength="4.03" lengthAdjust="spacingAndGlyphs">3</text>
<text x="601.13" y="683.2" font-size="14.5" textLength="15.44" lengthAdjust="spacingAndGlyphs">10</text>
<text x="616.30" y="674.6" font-size="7.5" textLength="3.74" lengthAdjust="spacingAndGlyphs">4</text>
<path d="M488.0 564.7V595.4M488.0 582.1H604.5" class="gt"/>
<path d="M420.2 500.3H442.0" class="thin"/>
<path d="M420.5 527.4H441.0" class="thick"/>
<text x="459.91" y="509.3" font-size="19.5" textLength="83.85" lengthAdjust="spacingAndGlyphs">Anti-FAS</text>
<text x="546.73" y="509.3" font-size="19.5" textLength="68.04" lengthAdjust="spacingAndGlyphs">(11.8%)</text>
<text x="460.11" y="534.7" font-size="19.5" textLength="148.44" lengthAdjust="spacingAndGlyphs">BB94+ Anti-FAS</text>
<text x="611.02" y="534.7" font-size="19.5" textLength="68.55" lengthAdjust="spacingAndGlyphs">(43.3%)</text>
<path d="M400.5 663.5 L401.7 663.3 L402.9 663.0 L404.1 662.8 L405.3 662.6 L406.6 661.0 L407.9 659.4 L409.2 660.7 L410.5 662.0 L411.8 660.7 L413.1 659.4 L414.5 656.8 L415.8 654.1 L417.1 650.8 L418.4 647.5 L419.4 644.2 L420.4 641.0 L421.7 633.1 L423.0 625.2 L423.7 618.6 L425.0 609.4 L425.6 596.3 L426.3 592.3 L427.3 594.3 L428.3 596.3 L430.2 593.7 L431.2 596.3 L432.2 598.9 L433.5 604.2 L434.8 587.1 L435.8 589.7 L436.8 592.3 L438.1 598.9 L439.4 609.4 L440.7 593.7 L442.0 596.3 L443.4 605.5 L445.3 589.7 L446.6 596.3 L447.6 596.3 L448.6 596.3 L449.6 602.8 L450.6 609.4 L451.6 600.8 L452.6 592.3 L453.9 596.3 L455.2 606.8 L455.8 617.3 L457.2 609.4 L458.5 616.0 L459.8 625.2 L461.1 630.4 L462.1 632.4 L463.1 634.4 L464.4 635.2 L465.7 636.0 L466.9 636.5 L468.0 637.0 L469.0 637.5 L470.0 638.0 L471.2 638.7 L472.4 639.3 L473.6 640.0 L474.9 641.0 L476.2 642.0 L477.5 646.0 L478.8 650.0 L480.5 641.3 L481.7 639.8 L482.9 638.4 L484.4 640.6 L485.8 642.8 L486.8 643.3 L487.8 643.7 L488.8 644.2 L490.2 645.7 L491.7 647.2 L492.8 649.4 L493.9 651.5 L495.0 647.9 L496.1 644.2 L497.1 648.6 L498.2 653.0 L499.3 649.4 L500.4 645.7 L501.9 650.1 L503.4 653.0 L504.9 654.5 L506.3 655.9 L507.4 657.3 L508.5 658.8 L509.6 657.3 L510.7 655.9 L511.8 658.1 L512.8 660.3 L513.8 660.1 L514.8 659.8 L515.8 659.6 L517.2 660.0 L518.7 660.3 L519.9 660.1 L521.1 659.8 L522.3 659.6 L523.3 660.7 L524.3 661.8 L525.3 662.9 L526.4 663.0 L527.5 663.2 L528.5 663.4 L529.6 663.5" class="cthin"/>
<path d="M405.3 662.8 L406.3 662.6 L407.3 662.4 L408.3 662.3 L409.3 662.1 L410.3 662.0 L411.3 661.8 L412.4 661.6 L413.4 661.5 L414.4 661.3 L415.4 661.2 L416.4 661.0 L417.4 660.9 L418.4 660.7 L419.7 659.5 L420.2 660.5 L420.8 660.5 L421.9 660.1 L423.0 660.7 L424.1 660.6 L425.2 660.8 L426.3 661.0 L427.4 661.0 L428.5 660.9 L429.6 660.9 L430.7 660.8 L431.8 660.8 L432.9 660.7 L434.2 660.5 L435.5 656.9 L436.0 660.5 L436.8 659.5 L438.1 655.6 L438.6 659.2 L439.4 657.5 L440.7 654.3 L441.2 656.5 L442.0 655.2 L443.4 653.0 L443.9 654.5 L445.3 649.0 L445.8 652.6 L446.3 650.9 L447.3 645.1 L447.8 650.0 L448.3 647.6 L449.3 641.1 L449.8 647.3 L450.6 631.9 L451.1 643.4 L451.9 629.3 L452.4 639.5 L452.9 638.7 L453.9 634.6 L454.4 639.5 L455.2 639.5 L456.5 633.3 L457.0 640.8 L457.5 638.4 L458.5 625.4 L459.0 638.1 L460.4 634.6 L460.9 642.1 L461.8 642.7 L463.1 637.2 L463.6 643.4 L464.4 641.0 L465.7 634.6 L466.2 639.5 L467.0 639.3 L468.3 631.9 L468.8 639.5 L469.3 639.5 L470.3 624.1 L470.8 639.5 L471.3 638.8 L472.3 631.9 L472.8 642.1 L473.6 641.8 L474.9 635.9 L475.4 642.1 L476.2 645.2 L477.5 637.2 L478.0 650.0 L478.8 639.8 L479.3 651.3 L480.2 637.2 L480.7 644.7 L481.5 642.8 L482.8 633.0 L483.3 643.4 L484.4 632.6 L484.9 638.5 L485.5 637.5 L486.6 632.9 L487.7 636.8 L488.8 632.6 L489.3 636.9 L490.2 639.2 L491.7 637.0 L492.2 642.7 L493.1 641.1 L494.6 635.5 L495.1 641.3 L496.1 641.9 L497.5 637.0 L498.0 642.7 L498.9 640.4 L500.4 631.1 L500.9 639.8 L501.4 639.9 L502.4 635.4 L503.4 637.0 L503.9 641.3 L504.9 640.0 L506.3 637.0 L506.8 639.8 L507.4 635.7 L508.5 626.8 L509.0 632.5 L509.6 631.2 L510.7 626.8 L511.2 631.1 L511.8 629.7 L512.8 626.0 L513.3 629.6 L513.9 630.3 L515.0 628.2 L515.5 632.5 L516.1 633.0 L517.2 632.6 L517.7 634.0 L518.7 634.4 L520.1 632.6 L520.6 635.4 L521.1 635.6 L522.1 633.9 L523.1 634.1 L523.6 636.9 L524.5 635.7 L526.0 631.9 L526.5 635.4 L527.5 635.8 L528.9 632.6 L529.4 636.9 L530.0 640.7 L531.1 638.4 L531.6 645.7 L532.5 646.5 L534.0 642.8 L534.5 648.6 L535.5 648.8 L536.9 644.3 L537.4 651.5 L537.9 650.5 L538.9 645.6 L539.9 644.3 L540.4 651.5 L541.0 651.3 L542.0 650.1 L542.5 653.0 L543.5 654.3 L544.9 653.0 L545.4 655.9 L545.9 657.0 L546.9 655.7 L547.9 656.0 L548.4 660.3 L549.3 660.3 L550.8 657.4 L551.3 661.7 L552.2 661.6 L553.7 658.9 L554.2 661.7 L554.8 662.1 L555.9 662.6 L557.3 663.1 L558.8 663.5 L560.0 663.3 L561.3 663.1 L562.5 662.9 L563.5 663.0 L564.5 663.2 L565.6 663.4 L566.6 663.5 L567.6 663.6" class="cthick"/>
<path d="M73.6 697.2H77.6V897.0M73.6 894.0H287.7" class="ax"/>
<path d="M129.4 894.0V897.0" class="tk"/>
<path d="M181.9 894.0V897.0" class="tk"/>
<path d="M235.2 894.0V897.0" class="tk"/>
<path d="M286.0 894.0V897.0" class="tk"/>
<text x="54.40" y="701.9" font-size="13.1" textLength="14.54" lengthAdjust="spacingAndGlyphs">50</text>
<text x="61.90" y="899.8" font-size="13.1" textLength="7.02" lengthAdjust="spacingAndGlyphs">0</text>
<text x="74.05" y="913.3" font-size="14.5" textLength="7.72" lengthAdjust="spacingAndGlyphs">0</text>
<text x="121.03" y="914.3" font-size="14.5" textLength="15.44" lengthAdjust="spacingAndGlyphs">10</text>
<text x="135.95" y="905.7" font-size="7.5" textLength="3.11" lengthAdjust="spacingAndGlyphs">1</text>
<text x="173.53" y="914.3" font-size="14.5" textLength="15.44" lengthAdjust="spacingAndGlyphs">10</text>
<text x="188.54" y="905.7" font-size="7.5" textLength="4.16" lengthAdjust="spacingAndGlyphs">2</text>
<text x="226.83" y="914.3" font-size="14.5" textLength="15.44" lengthAdjust="spacingAndGlyphs">10</text>
<text x="241.93" y="905.7" font-size="7.5" textLength="4.03" lengthAdjust="spacingAndGlyphs">3</text>
<text x="277.63" y="914.3" font-size="14.5" textLength="15.44" lengthAdjust="spacingAndGlyphs">10</text>
<text x="292.80" y="905.7" font-size="7.5" textLength="3.74" lengthAdjust="spacingAndGlyphs">4</text>
<path d="M170.6 793.9V823.9M170.6 810.7H286.3" class="gt"/>
<path d="M91.0 728.0H112.6" class="thin"/>
<path d="M91.8 753.3H111.9" class="thick"/>
<text x="126.09" y="733.7" font-size="19.5" textLength="148.21" lengthAdjust="spacingAndGlyphs">RAdlacZ+TRAIL</text>
<text x="275.62" y="733.7" font-size="19.5" textLength="68.76" lengthAdjust="spacingAndGlyphs">(25.3%)</text>
<text x="125.20" y="758.4" font-size="19.5" textLength="172.80" lengthAdjust="spacingAndGlyphs">RAdTIMP-3+TRAIL</text>
<text x="299.31" y="758.4" font-size="19.5" textLength="69.27" lengthAdjust="spacingAndGlyphs">(63.6%)</text>
<path d="M78.0 893.5 L79.0 893.3 L80.2 892.9 L81.4 892.5 L82.5 892.1 L83.7 891.7 L84.9 891.3 L85.9 891.6 L87.0 891.8 L88.0 892.1 L89.1 892.3 L90.1 892.6 L91.2 892.3 L92.3 892.0 L93.4 891.7 L94.5 891.3 L95.6 891.0 L96.7 890.7 L97.7 890.0 L98.7 889.4 L99.7 888.7 L100.7 888.0 L102.0 887.4 L103.3 886.7 L104.3 885.4 L105.3 884.1 L107.2 880.2 L108.2 877.9 L109.2 875.6 L110.2 873.3 L111.2 871.0 L112.5 865.7 L113.8 857.8 L115.1 855.2 L116.4 843.4 L117.7 833.9 L118.2 837.0 L119.0 839.1 L119.5 841.0 L120.0 840.3 L121.0 837.8 L121.5 840.0 L122.3 835.2 L122.8 838.0 L123.6 829.9 L124.1 833.0 L125.0 840.7 L126.3 825.0 L127.2 814.5 L128.2 827.3 L128.7 831.0 L129.6 826.0 L130.1 829.0 L130.9 838.1 L132.2 826.3 L133.5 815.8 L134.8 827.3 L135.3 831.0 L136.1 839.4 L137.4 823.7 L138.8 833.9 L139.3 837.0 L140.1 843.0 L140.6 844.0 L142.0 839.1 L142.5 842.0 L143.4 844.4 L143.9 846.0 L145.3 845.7 L145.8 847.0 L146.7 847.7 L148.0 847.0 L148.5 848.5 L149.3 849.2 L150.6 848.3 L151.1 850.0 L151.9 850.5 L153.2 849.6 L153.7 851.0 L154.5 850.8 L155.8 849.6 L156.3 851.0 L156.8 848.2 L157.8 843.0 L158.3 846.0 L158.8 844.4 L159.8 840.4 L160.3 844.0 L161.1 842.4 L162.4 837.8 L162.9 841.0 L163.4 843.3 L164.4 846.0 L165.4 850.6 L166.4 855.2 L167.6 857.4 L168.8 859.6 L170.2 860.4 L171.7 861.1 L173.1 862.5 L174.6 864.0 L176.1 866.2 L177.5 868.4 L178.9 870.6 L180.4 872.8 L181.5 874.2 L182.6 875.7 L184.1 866.9 L185.2 868.4 L186.3 869.9 L187.4 872.0 L188.5 874.2 L189.6 877.9 L190.7 881.5 L191.8 879.4 L192.8 877.2 L193.9 879.4 L195.0 881.5 L196.0 882.5 L197.0 883.5 L198.0 884.5 L199.2 884.0 L200.4 883.5 L201.6 883.0 L202.7 884.5 L203.8 885.9 L205.2 887.3 L206.7 888.8 L208.1 889.9 L209.6 891.0 L210.7 891.2 L211.8 891.4 L212.9 891.6 L214.0 891.8 L215.1 892.1 L216.2 892.3 L217.3 892.6 L218.4 892.9" class="cthin"/>
<path d="M79.0 893.1 L80.0 893.1 L81.0 893.0 L82.0 893.0 L83.0 893.0 L84.0 893.0 L85.0 892.9 L86.0 892.9 L87.0 892.9 L88.0 892.9 L89.0 892.8 L90.0 892.8 L91.1 892.8 L92.2 892.8 L93.3 892.8 L94.5 892.8 L95.6 892.8 L96.7 892.8 L97.7 892.6 L98.7 891.9 L99.7 892.1 L100.7 890.9 L101.2 892.1 L101.8 891.8 L102.9 890.5 L104.0 891.6 L105.0 890.1 L106.1 891.6 L107.2 889.5 L107.7 891.8 L108.6 891.5 L109.9 890.9 L110.4 891.8 L111.2 892.0 L112.5 892.3 L113.8 892.8 L115.1 891.8 L116.4 890.7 L117.7 889.3 L119.0 886.9 L119.5 887.9 L120.3 885.8 L121.7 881.7 L122.2 883.9 L123.6 876.4 L124.1 878.7 L124.6 877.5 L125.6 869.8 L126.1 877.3 L126.6 876.9 L127.6 872.5 L128.1 877.3 L128.6 874.5 L129.6 867.2 L130.1 872.1 L131.5 861.9 L132.0 864.2 L132.5 865.4 L133.5 864.6 L134.0 866.8 L134.8 867.2 L136.1 867.2 L136.6 868.1 L137.4 867.4 L138.8 864.6 L139.3 866.8 L140.1 856.7 L140.6 862.9 L141.4 861.8 L142.7 859.3 L143.2 861.6 L144.0 864.4 L145.3 859.3 L145.8 868.1 L146.7 866.1 L148.0 860.6 L148.5 864.2 L149.3 864.0 L150.6 861.9 L151.1 864.2 L151.9 864.4 L153.2 860.6 L153.7 865.5 L154.5 863.0 L155.8 856.7 L156.3 861.6 L157.2 862.1 L158.5 851.4 L159.0 862.9 L160.0 849.5 L160.5 861.1 L161.1 854.2 L162.2 838.5 L162.7 852.3 L163.3 852.2 L164.4 849.5 L164.9 855.2 L165.9 859.1 L167.3 852.4 L167.8 866.9 L168.8 861.5 L170.2 840.7 L170.7 856.7 L171.3 857.5 L172.4 852.4 L172.9 859.6 L173.5 858.1 L174.6 842.2 L175.1 856.7 L175.7 855.2 L176.8 852.4 L177.3 856.7 L177.9 855.8 L179.0 853.8 L179.5 855.2 L180.4 854.4 L181.9 850.9 L182.4 853.8 L183.4 852.9 L184.8 850.9 L185.3 852.3 L186.2 850.1 L187.7 842.2 L188.2 849.4 L188.7 849.1 L189.7 843.6 L190.7 843.6 L191.2 852.3 L191.8 852.1 L192.8 846.5 L193.3 852.3 L193.9 855.1 L195.0 849.5 L195.5 861.1 L196.1 855.8 L197.2 848.0 L197.7 852.3 L198.3 853.3 L199.4 852.4 L199.9 855.2 L200.9 853.7 L202.3 846.5 L202.8 852.3 L203.3 851.7 L204.3 848.0 L205.3 848.0 L205.8 850.8 L206.4 851.1 L207.4 844.3 L207.9 852.3 L208.5 853.6 L209.6 845.1 L210.1 855.2 L211.1 858.2 L211.6 862.5 L212.2 863.1 L213.3 861.1 L213.8 865.4 L214.4 867.1 L215.5 867.0 L216.0 869.8 L216.6 873.4 L217.7 871.4 L218.2 878.6 L218.8 876.3 L219.9 871.4 L220.4 874.2 L221.4 874.6 L222.8 874.3 L223.3 875.7 L224.2 876.4 L225.7 874.3 L226.2 877.1 L227.1 877.9 L228.6 875.7 L229.1 880.0 L230.1 881.2 L231.5 881.6 L232.0 883.0 L232.5 883.4 L233.5 883.6 L234.5 884.5 L235.9 885.8 L237.4 886.0 L237.9 887.3 L238.9 888.0 L240.3 887.4 L240.8 888.8 L241.8 889.5 L243.2 890.3 L244.3 890.8 L245.4 891.2 L246.5 891.6 L247.6 892.1 L248.7 892.2 L249.8 892.3 L250.9 892.5 L252.0 892.6 L253.2 892.8 L254.3 892.9 L255.5 893.1 L256.6 893.2 L257.8 893.4" class="cthick"/>
<path d="M398.8 694.3H402.8V898.0M398.8 895.0H611.1" class="ax"/>
<path d="M452.8 895.0V898.0" class="tk"/>
<path d="M504.5 895.0V898.0" class="tk"/>
<path d="M561.2 895.0V898.0" class="tk"/>
<path d="M609.6 895.0V898.0" class="tk"/>
<text x="379.10" y="699.5" font-size="13.0" textLength="14.54" lengthAdjust="spacingAndGlyphs">50</text>
<text x="386.75" y="900.2" font-size="13.7" textLength="7.72" lengthAdjust="spacingAndGlyphs">0</text>
<text x="399.25" y="913.8" font-size="14.5" textLength="7.72" lengthAdjust="spacingAndGlyphs">0</text>
<text x="444.43" y="914.8" font-size="14.5" textLength="15.44" lengthAdjust="spacingAndGlyphs">10</text>
<text x="459.35" y="906.2" font-size="7.5" textLength="3.11" lengthAdjust="spacingAndGlyphs">1</text>
<text x="496.13" y="914.8" font-size="14.5" textLength="15.44" lengthAdjust="spacingAndGlyphs">10</text>
<text x="511.14" y="906.2" font-size="7.5" textLength="4.16" lengthAdjust="spacingAndGlyphs">2</text>
<text x="552.83" y="914.8" font-size="14.5" textLength="15.44" lengthAdjust="spacingAndGlyphs">10</text>
<text x="567.93" y="906.2" font-size="7.5" textLength="4.03" lengthAdjust="spacingAndGlyphs">3</text>
<text x="601.23" y="914.8" font-size="14.5" textLength="15.44" lengthAdjust="spacingAndGlyphs">10</text>
<text x="616.40" y="906.2" font-size="7.5" textLength="3.74" lengthAdjust="spacingAndGlyphs">4</text>
<path d="M489.8 796.0V826.0M489.8 812.3H606.3" class="gt"/>
<path d="M421.3 728.0H443.3" class="thin"/>
<path d="M421.8 755.5H442.1" class="thick"/>
<text x="459.58" y="733.7" font-size="19.5" textLength="56.71" lengthAdjust="spacingAndGlyphs">TRAIL</text>
<text x="517.12" y="733.7" font-size="19.5" textLength="68.55" lengthAdjust="spacingAndGlyphs">(33.9%)</text>
<text x="459.80" y="762.2" font-size="19.5" textLength="118.30" lengthAdjust="spacingAndGlyphs">BB94+TRAIL</text>
<text x="581.31" y="762.2" font-size="19.5" textLength="69.58" lengthAdjust="spacingAndGlyphs">(45.5%)</text>
<path d="M403.0 894.5 L404.1 894.1 L405.3 893.7 L406.4 893.2 L407.6 892.8 L408.8 892.4 L409.9 892.0 L411.0 891.4 L412.1 890.7 L413.2 890.1 L414.3 889.5 L415.4 888.8 L416.5 888.2 L417.6 888.6 L418.7 888.9 L419.8 889.3 L421.0 889.7 L422.1 890.1 L423.2 890.4 L424.3 890.8 L425.4 890.5 L426.6 890.2 L427.7 889.9 L428.8 889.7 L429.9 889.4 L431.1 889.1 L432.2 888.8 L433.4 887.3 L434.5 885.8 L435.6 884.4 L436.8 882.9 L437.9 880.5 L439.0 878.1 L440.1 875.7 L441.4 869.8 L442.7 863.9 L443.9 862.0 L445.0 860.0 L446.0 858.0 L447.0 856.0 L448.0 854.7 L449.3 849.4 L450.6 840.2 L451.9 836.3 L453.2 832.3 L454.6 838.9 L456.5 844.2 L457.5 842.2 L458.5 840.2 L460.0 837.5 L461.5 832.0 L462.6 830.4 L463.6 828.8 L465.1 840.4 L466.2 845.5 L467.3 850.7 L468.8 852.2 L470.2 853.6 L471.5 848.9 L472.8 844.1 L473.9 842.6 L475.0 841.2 L476.1 839.7 L477.6 839.0 L479.0 838.2 L480.1 837.9 L481.2 837.5 L482.3 835.1 L483.4 832.8 L484.8 838.2 L486.2 839.7 L487.7 841.2 L489.2 841.9 L490.4 841.7 L491.6 841.4 L492.8 841.2 L494.0 842.6 L495.3 844.1 L496.5 845.5 L497.6 845.9 L498.7 846.3 L499.8 850.6 L500.9 855.0 L502.1 853.1 L503.3 851.1 L504.5 849.2 L505.7 849.9 L507.0 850.7 L508.2 851.4 L509.2 850.0 L510.6 854.4 L512.1 858.8 L513.5 858.8 L515.0 858.8 L516.0 857.8 L517.0 856.9 L518.0 855.9 L519.5 859.5 L520.9 863.2 L522.3 863.9 L523.8 864.6 L525.2 863.2 L526.7 861.7 L528.2 864.7 L529.6 867.6 L530.6 868.6 L531.6 869.5 L532.6 870.5 L534.0 870.5 L535.5 870.5 L537.0 873.4 L538.4 876.3 L539.8 877.0 L541.3 877.8 L542.8 880.7 L544.2 883.6 L545.2 884.6 L546.2 885.5 L547.2 886.5 L548.7 887.2 L550.1 888.0 L551.5 889.5 L553.0 890.9" class="cthin"/>
<path d="M403.0 894.6 L404.1 894.4 L405.3 894.2 L406.4 894.0 L407.6 893.7 L408.8 893.5 L409.9 893.2 L411.2 892.9 L412.5 892.3 L413.8 891.7 L414.3 892.6 L415.1 892.5 L416.5 889.7 L417.0 892.6 L417.8 892.6 L419.1 891.8 L420.4 892.8 L421.7 892.7 L423.0 892.6 L424.3 892.3 L424.8 892.6 L425.3 892.6 L426.3 892.3 L427.3 892.6 L428.3 892.3 L428.8 892.6 L429.6 892.3 L430.9 891.1 L432.2 890.3 L432.7 891.9 L433.5 890.8 L434.9 886.4 L435.4 890.0 L436.8 884.4 L437.3 887.3 L437.8 886.3 L438.8 882.5 L439.3 886.0 L440.1 877.2 L440.6 883.4 L441.4 871.9 L441.9 879.5 L442.7 865.4 L443.2 876.8 L444.0 864.1 L444.5 874.2 L445.0 874.5 L446.0 865.4 L446.5 875.5 L447.3 862.7 L447.8 871.6 L448.3 869.1 L449.3 861.4 L449.8 867.6 L450.3 865.6 L451.3 861.4 L451.8 863.7 L453.2 864.1 L453.7 866.3 L454.5 865.5 L455.9 862.7 L456.4 865.0 L457.2 863.0 L458.5 856.5 L459.0 861.1 L460.0 854.3 L460.5 859.4 L461.2 859.7 L462.4 857.6 L463.6 858.5 L464.1 862.3 L464.8 863.3 L466.1 860.9 L467.3 861.5 L467.8 865.9 L468.5 865.7 L469.8 861.6 L471.0 861.5 L471.5 868.1 L472.2 864.8 L473.4 854.4 L474.6 849.5 L475.1 862.5 L475.8 861.4 L477.0 849.0 L478.2 844.5 L478.7 863.8 L479.4 863.1 L480.7 844.9 L481.9 841.5 L482.4 866.7 L483.1 861.8 L484.3 846.8 L485.5 843.5 L486.0 861.5 L486.7 860.0 L488.0 847.5 L489.2 845.5 L489.7 860.5 L490.4 858.7 L491.6 848.1 L492.8 846.5 L493.3 861.5 L494.0 859.7 L495.3 849.1 L496.5 849.2 L497.0 859.5 L497.9 860.4 L499.4 850.7 L499.9 861.6 L500.5 864.9 L501.6 856.5 L502.1 868.9 L502.7 869.0 L503.8 851.5 L504.3 869.5 L505.2 867.0 L506.7 853.5 L507.2 869.5 L508.1 869.3 L509.6 851.5 L510.1 871.0 L510.9 872.3 L512.1 860.3 L512.6 874.8 L513.5 876.0 L515.0 860.3 L515.5 877.7 L516.0 873.4 L517.0 861.2 L518.0 857.4 L518.5 873.4 L519.5 873.6 L520.9 864.7 L521.4 877.7 L522.3 877.0 L523.8 866.1 L524.3 877.7 L525.2 879.2 L526.7 863.2 L527.2 882.1 L528.2 882.5 L529.6 869.1 L530.1 885.0 L530.6 884.1 L531.6 871.5 L532.6 872.0 L533.1 886.5 L534.0 885.2 L535.5 872.0 L536.0 886.5 L537.0 886.6 L538.4 877.8 L538.9 888.0 L539.8 886.7 L541.3 879.3 L541.8 889.4 L542.8 888.6 L544.2 885.1 L544.7 890.9 L545.2 890.8 L546.2 887.3 L547.2 888.0 L547.7 892.3 L548.7 891.9 L550.1 889.5 L550.6 893.1 L551.5 893.0 L553.0 892.4 L553.5 893.1 L554.5 893.2 L555.9 892.4 L556.4 893.5 L557.1 893.5 L558.4 892.9 L559.6 893.1 L560.1 893.5 L560.8 893.7 L562.0 894.0 L563.2 894.4 L564.3 894.5 L565.4 894.6 L566.5 894.7 L567.6 894.8" class="cthick"/>
</svg>
</body></html>
